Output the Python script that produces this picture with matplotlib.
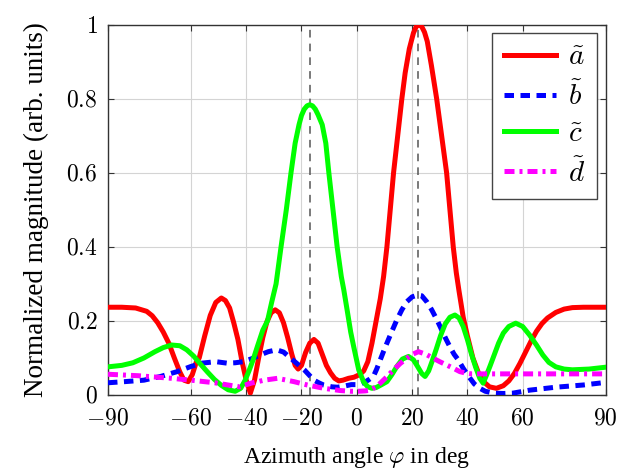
import matplotlib
matplotlib.use("Agg")
import matplotlib.pyplot as plt

plt.rcParams['font.family'] = ['Liberation Serif', 'DejaVu Serif']
plt.rcParams['mathtext.fontset'] = 'cm'

# azimuth angle (deg) and normalized magnitudes
xa = [-90, -85, -80, -76, -74, -72, -70, -68, -66, -64, -62.5, -61, -59.5, -58, -57,
      -55, -53, -51, -49, -47.5, -46, -44.5, -43, -41.5, -40, -38.5, -37, -35.5, -34,
      -32.5, -31, -29.5, -28, -26.5, -25, -23.5, -22.3, -21.2, -20, -18.5, -17, -15.5,
      -14, -12.5, -11, -9.5, -8, -6.5, -5, -3, -1, 1, 2.5, 4, 5.5, 7, 8.5, 9.7, 10.9,
      12.1, 13.3, 14.8, 16.3, 17.5, 19, 20.5, 21.5, 22.5, 23.5, 24.5, 25.5, 27, 28.9,
      30.7, 32.5, 33.7, 34.9, 36, 37, 38.5, 40, 42, 44, 46, 48, 50.5, 53, 55, 57, 59,
      61, 63, 65, 67, 69, 72, 75, 78, 82, 86, 90]
a = [0.237, 0.237, 0.235, 0.226, 0.214, 0.195, 0.17, 0.14, 0.1, 0.062, 0.04, 0.036,
     0.055, 0.09, 0.1, 0.16, 0.215, 0.25, 0.262, 0.255, 0.235, 0.195, 0.15, 0.09, 0.04,
     0.005, 0.04, 0.1, 0.155, 0.198, 0.222, 0.23, 0.222, 0.195, 0.155, 0.11, 0.08, 0.07,
     0.08, 0.115, 0.14, 0.15, 0.14, 0.11, 0.08, 0.06, 0.045, 0.038, 0.04, 0.045, 0.048,
     0.055, 0.065, 0.09, 0.14, 0.2, 0.26, 0.32, 0.4, 0.5, 0.6, 0.7, 0.8, 0.87, 0.935,
     0.978, 0.995, 1.0, 0.995, 0.98, 0.955, 0.89, 0.8, 0.7, 0.6, 0.5, 0.4, 0.33, 0.28,
     0.21, 0.16, 0.1, 0.06, 0.035, 0.022, 0.018, 0.025, 0.038, 0.058, 0.085, 0.115,
     0.145, 0.172, 0.193, 0.208, 0.223, 0.232, 0.236, 0.237, 0.237, 0.237]

xb = [-90, -84, -77, -71, -65, -60, -56, -51, -47, -44, -41, -38, -35, -32, -29, -26.5,
      -24, -21.5, -19, -17, -15.5, -13.5, -12, -9, -7, -4.5, -2, 1, 3, 4.5, 6, 7.2, 8.5,
      9.7, 10.9, 12.7, 14.5, 16.3, 18.1, 20, 22, 23.5, 25.3, 27.1, 29, 30.7, 32.2, 33.7,
      35.2, 36.7, 38.5, 40.5, 42.5, 44.5, 46.5, 49.5, 53, 56.5, 62.5, 72, 82, 90]
b = [0.033, 0.036, 0.04, 0.05, 0.063, 0.077, 0.086, 0.09, 0.086, 0.087, 0.09, 0.098,
     0.108, 0.117, 0.122, 0.116, 0.1, 0.084, 0.068, 0.052, 0.04, 0.032, 0.027, 0.022,
     0.021, 0.024, 0.028, 0.028, 0.035, 0.042, 0.05, 0.07, 0.095, 0.118, 0.14, 0.172,
     0.203, 0.23, 0.252, 0.265, 0.27, 0.268, 0.252, 0.23, 0.203, 0.176, 0.152, 0.13,
     0.11, 0.095, 0.072, 0.05, 0.03, 0.018, 0.01, 0.005, 0.004, 0.005, 0.013, 0.021,
     0.027, 0.034]

xc = [-90, -85, -81, -77, -73, -70, -67, -64, -61.5, -59, -56.5, -54, -51.5, -49, -46.5,
      -44, -42, -40.5, -39, -37.5, -36, -34, -32.3, -30.8, -29.2, -27.4, -25.5, -23.8,
      -22.3, -20.9, -20, -19, -18, -17, -16, -15, -14, -12.5, -11.2, -10.1, -8.6, -7.1,
      -5.6, -4.7, -3.5, -2.2, -1.1, 0.7, 2.5, 4, 5.5, 7, 9, 10.9, 12.7, 14.5, 16.5,
      18.7, 20.5, 22, 23.5, 24.7, 26, 27.3, 28.8, 30.3, 32, 33.7, 35.5, 37, 38.5, 40,
      41.5, 43, 44.5, 45.7, 47, 48.3, 49.8, 51.3, 53, 55, 57.5, 60, 62.5, 65, 67.3,
      69.5, 72, 75, 78, 84, 90]
c = [0.076, 0.08, 0.087, 0.1, 0.117, 0.128, 0.135, 0.133, 0.122, 0.105, 0.083, 0.062,
     0.042, 0.026, 0.014, 0.01, 0.018, 0.038, 0.065, 0.095, 0.13, 0.175, 0.2, 0.25, 0.3,
     0.4, 0.5, 0.6, 0.68, 0.73, 0.755, 0.772, 0.781, 0.784, 0.781, 0.772, 0.757, 0.73,
     0.68, 0.6, 0.5, 0.4, 0.32, 0.284, 0.23, 0.17, 0.13, 0.068, 0.035, 0.022, 0.018,
     0.02, 0.028, 0.036, 0.055, 0.077, 0.097, 0.104, 0.095, 0.077, 0.058, 0.05, 0.065,
     0.092, 0.125, 0.16, 0.192, 0.21, 0.216, 0.208, 0.185, 0.15, 0.11, 0.075, 0.045,
     0.032, 0.055, 0.08, 0.11, 0.14, 0.167, 0.185, 0.194, 0.185, 0.162, 0.135, 0.108,
     0.088, 0.076, 0.07, 0.068, 0.07, 0.075]

xd = [-90, -79, -67, -60, -51.4, -46.6, -42.4, -38.2, -33.5, -28.7, -22.7, -17.9, -11.9,
      -6, -2, 0.5, 3, 4.9, 7, 8.5, 11, 13.3, 15.7, 18.1, 20.2, 22.3, 25, 27.7, 30, 32.5,
      35, 37.3, 39.5, 41.5, 50, 70, 90]
d = [0.056, 0.052, 0.045, 0.04, 0.033, 0.027, 0.022, 0.032, 0.04, 0.045, 0.036, 0.027,
     0.018, 0.012, 0.01, 0.01, 0.011, 0.013, 0.022, 0.032, 0.05, 0.068, 0.085, 0.099,
     0.11, 0.117, 0.11, 0.099, 0.09, 0.081, 0.072, 0.063, 0.059, 0.057, 0.057, 0.057,
     0.057]

marks = [-17, 22]
xticks = [-90, -60, -40, -20, 0, 20, 40, 60, 90]
yticks = [0, 0.2, 0.4, 0.6, 0.8, 1]

fig = plt.figure(figsize=(6.22, 4.71), dpi=100)
ax = fig.add_axes([0.1736, 0.1614, 0.8, 0.786])

ax.grid(True, color='#d4d4d4', linewidth=0.8)
ax.set_axisbelow(True)
for m in marks:
    ax.axvline(m, color='#555555', linewidth=1.1, linestyle=(0, (5, 4)), zorder=2)

lw = 3.6
ax.plot(xa, a, color='#ff0000', linewidth=lw, label=r'$\tilde{a}$', zorder=3,
        solid_joinstyle='round')
ax.plot(xb, b, color='#0000ff', linewidth=lw, linestyle=(0, (1.9, 1.3)),
        label=r'$\tilde{b}$', zorder=3)
ax.plot(xc, c, color='#00ff00', linewidth=lw, label=r'$\tilde{c}$', zorder=3,
        solid_joinstyle='round')
ax.plot(xd, d, color='#ff00ff', linewidth=lw, linestyle=(0, (2.0, 1.0, 0.6, 1.0)),
        label=r'$\tilde{d}$', zorder=3)

ax.set_xlim(-90, 90)
ax.set_ylim(0, 1)
ax.set_xticks(xticks)
ax.set_yticks(yticks)
ax.set_xticklabels([r'$%d$' % t if t >= 0 else r'$-%d$' % abs(t) for t in xticks])
ax.set_yticklabels(['$0$', '$0.2$', '$0.4$', '$0.6$', '$0.8$', '$1$'])
ax.tick_params(direction='in', top=True, right=True, length=4, width=0.8,
               labelsize=17, color='#333333')
ax.tick_params(axis='x', pad=10)
ax.tick_params(axis='y', pad=7.5)
for s in ax.spines.values():
    s.set_color('#333333')
    s.set_linewidth(1.0)

ax.set_xlabel(r'Azimuth angle $\varphi$ in deg', fontsize=17, labelpad=11)
ax.set_ylabel('Normalized magnitude (arb. units)', fontsize=19.5, labelpad=12)

leg = ax.legend(loc='upper right', fontsize=21, handlelength=1.8, handletextpad=0.4,
                labelspacing=0.35, borderpad=0.4, borderaxespad=0, fancybox=False,
                framealpha=1, edgecolor='#444444', bbox_to_anchor=(0.982, 0.978))
leg.get_frame().set_linewidth(1.0)

fig.savefig('out.png', dpi=100)
